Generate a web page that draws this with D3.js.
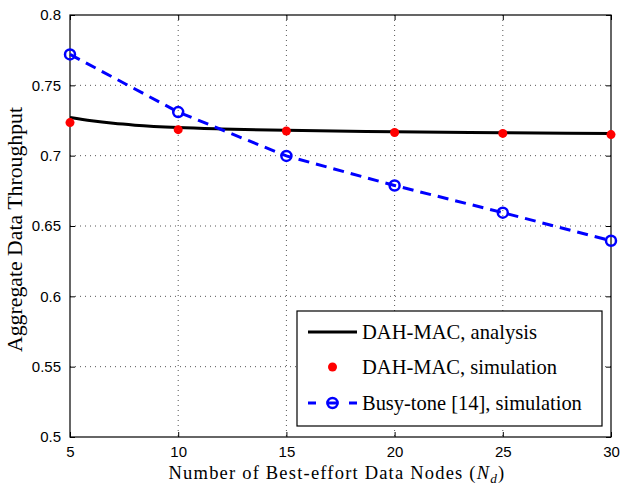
<!DOCTYPE html>
<html>
<head>
<meta charset="utf-8">
<script src="https://cdn.jsdelivr.net/npm/d3@7"></script>
<style>
    body { margin: 0; background: #fff; }
    .tick text { font-family: "Liberation Sans", Arial, sans-serif; font-size: 15px; fill: #000; }
    .grid line { stroke: #555; stroke-dasharray: 1,4; stroke-width: 1; }
    .serif { font-family: "Liberation Serif", "DejaVu Serif", serif; }
</style>
</head>
<body>
<svg width="621" height="485"></svg>
<script>
var nodeTicks = [5, 10, 15, 20, 25, 30];
var yTicks = [0.5, 0.55, 0.6, 0.65, 0.7, 0.75, 0.8];

// analysis curve
var analysisX = [5, 6, 7, 8, 10, 12, 15, 20, 25, 30];
var analysisY = [0.7272, 0.7248, 0.7230, 0.7217, 0.7200, 0.7190, 0.7180, 0.7170, 0.7163, 0.7158];

// DAH-MAC simulation (red dots)
var simX = [5, 10, 15, 20, 25, 30];
var simY = [0.7235, 0.7185, 0.7175, 0.7165, 0.7158, 0.7150];

// Busy-tone simulation (blue)
var busyX = [5, 10, 15, 20, 25, 30];
var busyY = [0.7720, 0.7310, 0.6998, 0.6788, 0.6595, 0.6395];

var legendLabels = ["DAH-MAC, analysis", "DAH-MAC, simulation", "Busy-tone [14], simulation"];

(function () {
    var svg = d3.select("svg"),
        margin = {top: 15, right: 10, bottom: 48, left: 70},
        width = 621 - margin.left - margin.right,
        height = 485 - margin.top - margin.bottom,
        g = svg.append("g").attr("transform", "translate(" + margin.left + "," + margin.top + ")");

    var x = d3.scaleLinear().domain([5, 30]).range([0, width]),
        y = d3.scaleLinear().domain([0.5, 0.8]).range([height, 0]);

    // scale a text's font so it spans about the width seen in the picture
    function fitText(sel, base, target) {
        sel.style("font-size", base + "px");
        var w = sel.node().getComputedTextLength();
        sel.style("font-size", (base * target / w).toFixed(2) + "px");
    }
    // keep the font size, widen with letter spacing instead
    function spreadText(sel, size, target) {
        sel.style("font-size", size + "px");
        var w = sel.node().getComputedTextLength(),
            n = sel.text().length;
        if (w < target) sel.style("letter-spacing", ((target - w) / n).toFixed(2) + "px");
    }

    // grid
    g.append("g").attr("class", "grid")
        .selectAll("line").data(nodeTicks.slice(1, -1)).enter().append("line")
        .attr("x1", function (d) { return x(d); }).attr("x2", function (d) { return x(d); })
        .attr("y1", 0).attr("y2", height);
    g.append("g").attr("class", "grid")
        .selectAll("line").data(yTicks.slice(1, -1)).enter().append("line")
        .attr("y1", function (d) { return y(d); }).attr("y2", function (d) { return y(d); })
        .attr("x1", 0).attr("x2", width);

    // axes, ticks inward like matlab
    var fmtY = function (d) { return d3.format("")(+d.toFixed(2)); };
    g.append("g").attr("transform", "translate(0," + height + ")")
        .call(d3.axisBottom(x).tickValues(nodeTicks).tickSizeInner(-5).tickSizeOuter(0).tickPadding(9))
        .call(function (a) { a.select(".domain").remove(); a.selectAll("line").attr("stroke", "#000"); });
    g.append("g")
        .call(d3.axisLeft(y).tickValues(yTicks).tickFormat(fmtY).tickSizeInner(-5).tickSizeOuter(0).tickPadding(9))
        .call(function (a) { a.select(".domain").remove(); a.selectAll("line").attr("stroke", "#000"); });
    g.append("g")
        .call(d3.axisTop(x).tickValues(nodeTicks).tickSizeInner(-5).tickSizeOuter(0).tickFormat(""))
        .call(function (a) { a.select(".domain").remove(); });
    g.append("g").attr("transform", "translate(" + width + ",0)")
        .call(d3.axisRight(y).tickValues(yTicks).tickSizeInner(-5).tickSizeOuter(0).tickFormat(""))
        .call(function (a) { a.select(".domain").remove(); });

    g.append("rect").attr("width", width).attr("height", height)
        .attr("fill", "none").attr("stroke", "#000").attr("stroke-width", 1.2);

    // analysis line
    var line = d3.line()
        .curve(d3.curveMonotoneX)
        .x(function (d) { return x(d[0]); })
        .y(function (d) { return y(d[1]); });

    g.append("path")
        .datum(d3.zip(analysisX, analysisY))
        .attr("d", line)
        .attr("fill", "none").attr("stroke", "#000").attr("stroke-width", 3);

    var busyLine = d3.line()
        .x(function (d) { return x(d[0]); })
        .y(function (d) { return y(d[1]); });

    g.append("path")
        .datum(d3.zip(busyX, busyY))
        .attr("d", busyLine)
        .attr("fill", "none").attr("stroke", "#0000ff").attr("stroke-width", 3)
        .attr("stroke-dasharray", "11,7");

    g.selectAll(".busy").data(d3.zip(busyX, busyY)).enter().append("circle")
        .attr("class", "busy")
        .attr("cx", function (d) { return x(d[0]); })
        .attr("cy", function (d) { return y(d[1]); })
        .attr("r", 5)
        .attr("fill", "none").attr("stroke", "#0000ff").attr("stroke-width", 2.5);

    g.selectAll(".sim").data(d3.zip(simX, simY)).enter().append("circle")
        .attr("class", "sim")
        .attr("cx", function (d) { return x(d[0]); })
        .attr("cy", function (d) { return y(d[1]); })
        .attr("r", 4.5)
        .attr("fill", "#ff0000");

    // legend
    var leg = svg.append("g").attr("transform", "translate(297,311)");
    leg.append("rect").attr("width", 305).attr("height", 115)
        .attr("fill", "#fff").attr("stroke", "#000").attr("stroke-width", 1.2);
    var rows = [21, 56, 92];
    leg.append("line").attr("x1", 11).attr("x2", 60).attr("y1", rows[0]).attr("y2", rows[0])
        .attr("stroke", "#000").attr("stroke-width", 3);
    leg.append("circle").attr("cx", 35.5).attr("cy", rows[1]).attr("r", 4.5).attr("fill", "#ff0000");
    leg.append("line").attr("x1", 11).attr("x2", 60).attr("y1", rows[2]).attr("y2", rows[2])
        .attr("stroke", "#0000ff").attr("stroke-width", 3).attr("stroke-dasharray", "8,10.5,12,10.5,8");
    leg.append("circle").attr("cx", 35.5).attr("cy", rows[2]).attr("r", 5)
        .attr("fill", "none").attr("stroke", "#0000ff").attr("stroke-width", 2.5);
    var legWidths = [175, 195, 220];
    leg.selectAll("text").data(legendLabels).enter().append("text")
        .attr("class", "serif")
        .attr("x", 65)
        .attr("y", function (d, i) { return rows[i]; })
        .attr("dy", "0.35em")
        .text(function (d) { return d; })
        .each(function (d, i) { fitText(d3.select(this), 17, legWidths[i]); });

    // axis titles
    var xt = svg.append("text")
        .attr("class", "serif")
        .attr("x", 337).attr("y", 479)
        .attr("text-anchor", "middle");
    xt.append("tspan").text("Number of Best-effort Data Nodes (");
    xt.append("tspan").style("font-style", "italic").text("N");
    xt.append("tspan").style("font-style", "italic").style("font-size", "0.72em").attr("dy", 4).text("d");
    xt.append("tspan").attr("dy", -4).text(")");
    spreadText(xt, 18.5, 337);

    var yt = svg.append("text")
        .attr("class", "serif")
        .attr("transform", "translate(22,229.5) rotate(-90)")
        .attr("text-anchor", "middle")
        .text("Aggregate Data Throughput");
    fitText(yt, 17, 245);
})();
</script>
</body>
</html>
